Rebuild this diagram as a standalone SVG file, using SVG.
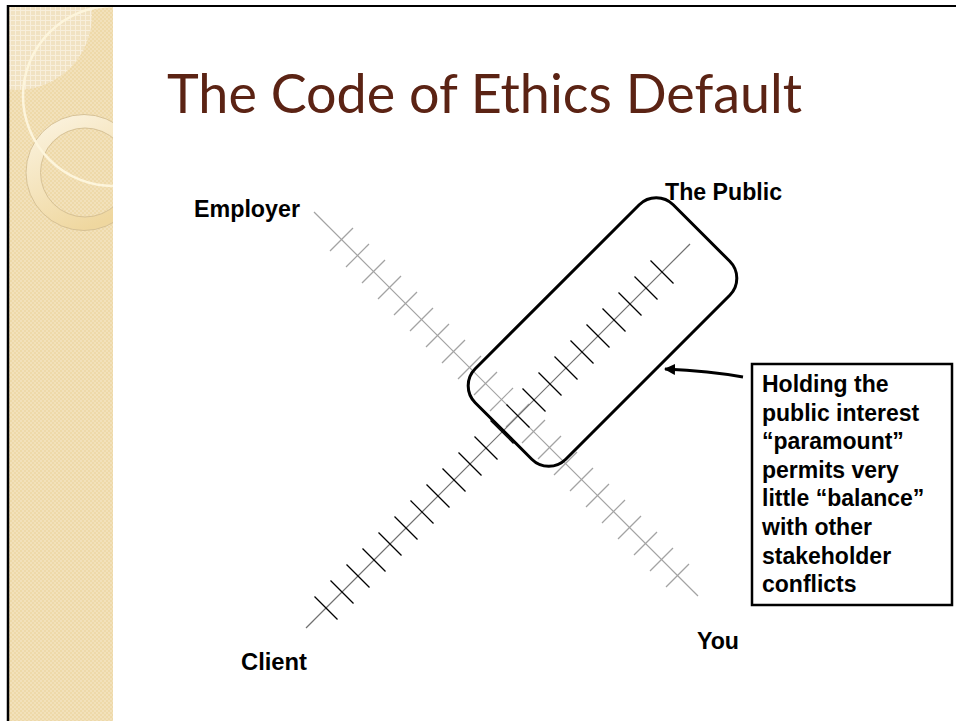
<svg xmlns="http://www.w3.org/2000/svg" xmlns:xlink="http://www.w3.org/1999/xlink" width="956" height="721" viewBox="0 0 956 721">
<style>
.lbl{font-family:"Liberation Sans",Arial,sans-serif;font-weight:bold;font-size:23px;fill:#000}
.title{font-family:Lato,"Open Sans","Liberation Sans",sans-serif;font-size:55px;fill:#5b2314}
.ax1{stroke:#a3a3a3;stroke-width:1.2;fill:none}
.ax2{stroke:#707070;stroke-width:1.2;fill:none}
.tk2{stroke:#000;stroke-width:1.2}
</style>
<defs>
<pattern id="chk" width="4" height="4" patternUnits="userSpaceOnUse">
<rect width="4" height="4" fill="#eed9a9"/>
<rect width="2" height="2" fill="#f2e1bb"/>
<rect x="2" y="2" width="2" height="2" fill="#f2e1bb"/>
</pattern>
<pattern id="grid" width="5" height="5" patternUnits="userSpaceOnUse">
<rect width="5" height="5" fill="#f1e2c2"/>
<rect width="5" height="1" fill="#f8efdc"/>
<rect width="1" height="5" fill="#f8efdc"/>
</pattern>
<linearGradient id="ringg" x1="0" y1="0" x2="0.5" y2="1">
<stop offset="0" stop-color="#fcf5e4"/>
<stop offset="1" stop-color="#efd79f"/>
</linearGradient>
<clipPath id="panel"><rect x="9" y="7" width="104" height="714"/></clipPath>
<line id="t1" x1="-11.5" y1="11.5" x2="11.5" y2="-11.5"/>
<line id="t2" x1="-11.5" y1="-11.5" x2="11.5" y2="11.5"/>
<marker id="ah" viewBox="0 0 10 10" refX="9" refY="5" markerWidth="4" markerHeight="4" orient="auto-start-reverse" markerUnits="strokeWidth">
<path d="M0,0 L10,5 L0,10 z" fill="#000"/>
</marker>
</defs>
<rect width="956" height="721" fill="#fff"/>
<g id="background">
<g clip-path="url(#panel)">
<rect x="9" y="7" width="104" height="714" fill="url(#chk)"/>
<circle cx="17" cy="15" r="75" fill="url(#grid)"/>
<path fill-rule="evenodd" fill="url(#ringg)" stroke="#d3bd92" stroke-width="0.9" d="M26,172.5 a58,58 0 1,0 116,0 a58,58 0 1,0 -116,0 Z M40.5,172.5 a44.5,44.5 0 1,0 89,0 a44.5,44.5 0 1,0 -89,0 Z"/>
<circle cx="113" cy="96" r="90" fill="none" stroke="#fdf5dc" stroke-width="2.5"/>
</g>
<line x1="7" y1="6" x2="956" y2="6" stroke="#000" stroke-width="2"/>
<line x1="8" y1="5" x2="8" y2="721" stroke="#000" stroke-width="2.5"/>
</g>
<text class="title" x="167" y="113" textLength="635" lengthAdjust="spacingAndGlyphs">The Code of Ethics Default</text>
<g id="connectors">
<g id="axis-employer-you" class="ax1">
<line x1="314" y1="212" x2="698" y2="596"/>
<use href="#t1" x="341.5" y="239.5"/><use href="#t1" x="357.5" y="255.5"/><use href="#t1" x="373.5" y="271.5"/><use href="#t1" x="389.5" y="287.5"/><use href="#t1" x="405.5" y="303.5"/><use href="#t1" x="421.5" y="319.5"/><use href="#t1" x="437.5" y="335.5"/><use href="#t1" x="453.5" y="351.5"/><use href="#t1" x="469.5" y="367.5"/><use href="#t1" x="485.5" y="383.5"/><use href="#t1" x="501.5" y="399.5"/><use href="#t1" x="517.5" y="415.5"/><use href="#t1" x="533.5" y="431.5"/><use href="#t1" x="549.5" y="447.5"/><use href="#t1" x="565.5" y="463.5"/><use href="#t1" x="581.5" y="479.5"/><use href="#t1" x="597.5" y="495.5"/><use href="#t1" x="613.5" y="511.5"/><use href="#t1" x="629.5" y="527.5"/><use href="#t1" x="645.5" y="543.5"/><use href="#t1" x="661.5" y="559.5"/><use href="#t1" x="677.5" y="575.5"/>
</g>
<g id="axis-client-public">
<line class="ax2" x1="306" y1="628" x2="690" y2="244"/>
<g class="tk2">
<use href="#t2" x="326" y="608"/><use href="#t2" x="342" y="592"/><use href="#t2" x="358" y="576"/><use href="#t2" x="374" y="560"/><use href="#t2" x="390" y="544"/><use href="#t2" x="406" y="528"/><use href="#t2" x="422" y="512"/><use href="#t2" x="438" y="496"/><use href="#t2" x="454" y="480"/><use href="#t2" x="470" y="464"/><use href="#t2" x="486" y="448"/><use href="#t2" x="502" y="432"/><use href="#t2" x="518" y="416"/><use href="#t2" x="534" y="400"/><use href="#t2" x="550" y="384"/><use href="#t2" x="566" y="368"/><use href="#t2" x="582" y="352"/><use href="#t2" x="598" y="336"/><use href="#t2" x="614" y="320"/><use href="#t2" x="630" y="304"/><use href="#t2" x="646" y="288"/><use href="#t2" x="662" y="272"/>
</g>
</g>
<path id="callout-arrow" d="M743,377 Q710,371 665,369" fill="none" stroke="#000" stroke-width="2.8" marker-end="url(#ah)"/>
</g>
<g id="node-highlight">
<rect x="-140" y="-64" width="280" height="128" rx="24" ry="24" transform="translate(602.5,332) rotate(-45)" fill="none" stroke="#000" stroke-width="3"/>
</g>
<g id="node-employer"><text class="lbl" x="194" y="217" textLength="106" lengthAdjust="spacingAndGlyphs">Employer</text></g>
<g id="node-public"><text class="lbl" x="665" y="200" textLength="117" lengthAdjust="spacingAndGlyphs">The Public</text></g>
<g id="node-you"><text class="lbl" x="697" y="649" textLength="42" lengthAdjust="spacingAndGlyphs">You</text></g>
<g id="node-client"><text class="lbl" x="241" y="670" textLength="66" lengthAdjust="spacingAndGlyphs">Client</text></g>
<g id="node-note">
<rect x="752" y="364" width="200" height="241" fill="#fff" stroke="#000" stroke-width="2.5"/>
<text class="lbl">
<tspan x="762" y="392">Holding the</tspan>
<tspan x="762" y="420.6">public interest</tspan>
<tspan x="762" y="449.2">“paramount”</tspan>
<tspan x="762" y="477.8">permits very</tspan>
<tspan x="762" y="506.4">little “balance”</tspan>
<tspan x="762" y="535">with other</tspan>
<tspan x="762" y="563.6">stakeholder</tspan>
<tspan x="762" y="592.2">conflicts</tspan>
</text>
</g>
</svg>
